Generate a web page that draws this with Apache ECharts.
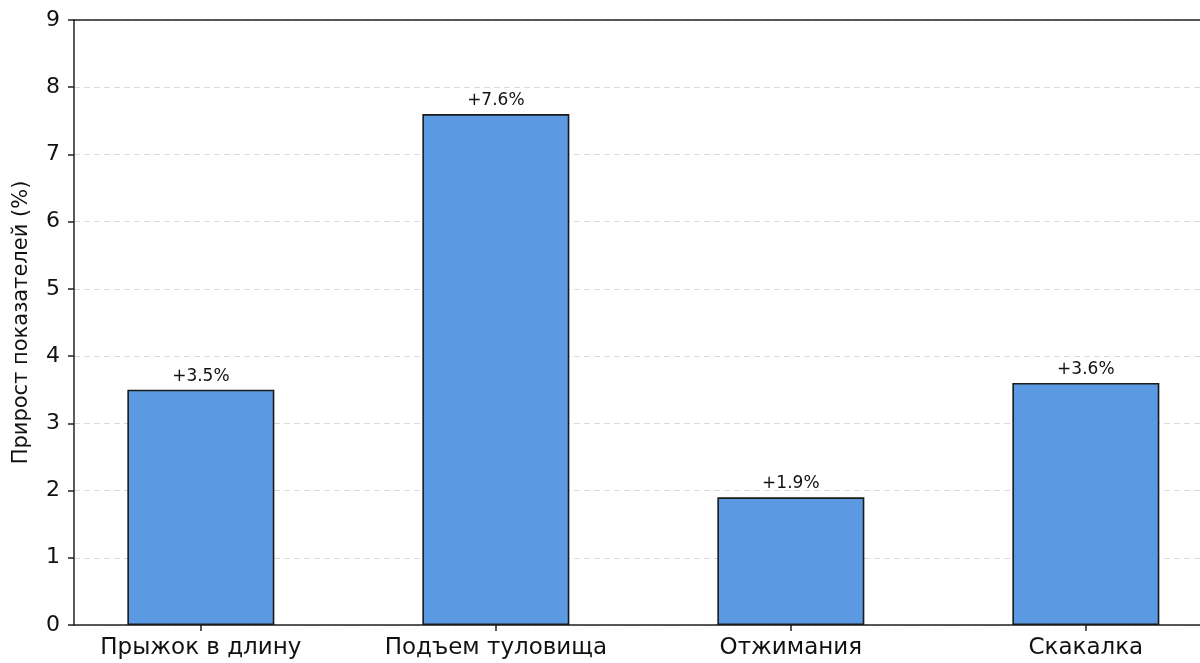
<!DOCTYPE html>
<html><head><meta charset="utf-8">
<script src="https://cdn.jsdelivr.net/npm/echarts@6/dist/echarts.min.js"></script>
<style>html,body{margin:0;padding:0;background:#fff}#c{width:1200px;height:663px}</style>
</head><body><div id="c"></div>
<script>
const categories = ['Прыжок в длину', 'Подъем туловища', 'Отжимания', 'Скакалка'];
const values = [3.5, 7.6, 1.9, 3.6];
const labels = ['+3.5%', '+7.6%', '+1.9%', '+3.6%'];
const yTicks = [0, 1, 2, 3, 4, 5, 6, 7, 8, 9];
const positions = [0, 1, 2, 3];

const font = '"DejaVu Sans", sans-serif';
const xMin = -0.43, xMax = 3.387;
const chart = echarts.init(document.getElementById('c'), null, {renderer: 'canvas'});
chart.setOption({
  animation: false,
  grid: {left: 74, top: 20, right: 0, bottom: 38, show: false, containLabel: false, outerBoundsMode: 'none'},
  xAxis: [{
    type: 'value', min: xMin, max: xMax,
    axisLine: {show: true, onZero: false, lineStyle: {color: '#222', width: 1.5}},
    axisTick: {show: true, customValues: positions, length: 6, lineStyle: {color: '#222', width: 1.5}},
    axisLabel: {customValues: positions, formatter: v => categories[Math.round(v)], color: '#111', fontSize: 23, fontFamily: font, margin: 12},
    splitLine: {show: false}
  }, {
    type: 'value', position: 'top', min: xMin, max: xMax,
    axisLine: {show: true, onZero: false, lineStyle: {color: '#222', width: 1.5}},
    axisTick: {show: false}, axisLabel: {show: false}, splitLine: {show: false}
  }],
  yAxis: {
    type: 'value', min: 0, max: 9, interval: 1,
    name: 'Прирост показателей (%)', nameLocation: 'middle', nameGap: 42,
    nameTextStyle: {fontSize: 21, color: '#111', fontFamily: font},
    axisLine: {show: true, onZero: false, lineStyle: {color: '#222', width: 1.5}},
    axisTick: {show: true, length: 6, lineStyle: {color: '#222', width: 1.5}},
    axisLabel: {color: '#111', fontSize: 22, fontFamily: font, margin: 14, formatter: v => yTicks.includes(v) ? String(v) : ''},
    splitLine: {show: true, lineStyle: {color: '#d9d9d9', type: [6, 4], width: 1}}
  },
  series: [{
    type: 'bar',
    data: positions.map((p, i) => [p, values[i]]),
    barWidth: 147,
    itemStyle: {color: '#5B9AE2', borderColor: '#1a1a1a', borderWidth: 1.6},
    label: {show: true, position: 'top', distance: 5, formatter: p => labels[p.dataIndex], color: '#111', fontSize: 17, fontFamily: font}
  }]
});
</script></body></html>
